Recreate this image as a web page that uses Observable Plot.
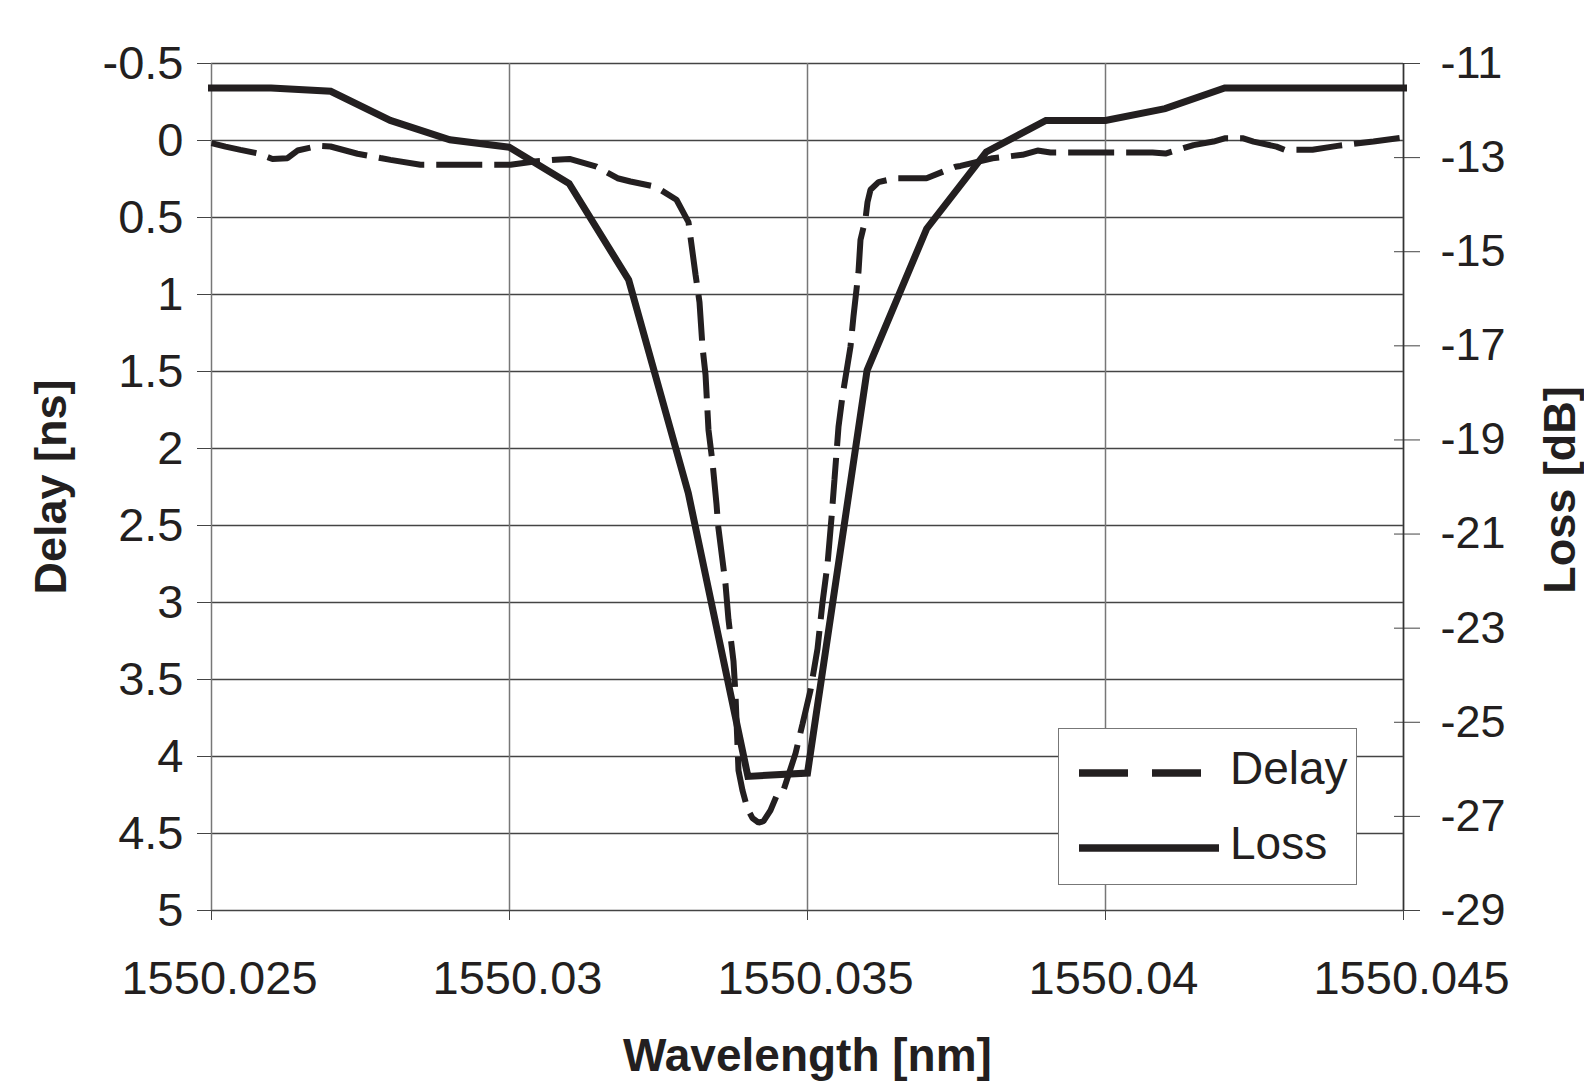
<!DOCTYPE html>
<html>
<head>
<meta charset="utf-8">
<script src="https://cdn.jsdelivr.net/npm/d3@7"></script>
<script src="https://cdn.jsdelivr.net/npm/@observablehq/plot@0.6"></script>
<style>
  body { margin: 0; background: #fff; }
  #wrap { position: relative; width: 1584px; height: 1084px; overflow: hidden; font-family: "Liberation Sans", Arial, sans-serif; }
  #legend { position: absolute; left: 1058px; top: 728px; width: 299px; height: 157px;
            border: 1.5px solid #777; background: #fff; box-sizing: border-box; }
  #legend svg { position: absolute; left: 0; top: 0; }
</style>
</head>
<body>
<div id="wrap"><div id="chart"></div><div id="legend"></div></div>
<script>
// ---- data ----
const lossWavelength = [1550.025, 1550.026, 1550.027, 1550.028, 1550.029, 1550.030, 1550.031,
  1550.032, 1550.033, 1550.034, 1550.035, 1550.036, 1550.037, 1550.038, 1550.039, 1550.040,
  1550.041, 1550.042, 1550.043, 1550.044, 1550.045];
const lossValues = [-11.52, -11.52, -11.59, -12.21, -12.62, -12.78, -13.55,
  -15.6, -20.13, -26.15, -26.08, -17.52, -14.51, -12.88, -12.21, -12.21,
  -11.96, -11.52, -11.52, -11.52, -11.52];

const delayWavelength = [1550.025000, 1550.025235, 1550.025487, 1550.025789, 1550.026023, 1550.026275,
  1550.026443, 1550.026795, 1550.026997, 1550.027450, 1550.027836, 1550.028003, 1550.028507,
  1550.030017, 1550.030419, 1550.030772, 1550.031007, 1550.031460, 1550.031812, 1550.032030,
  1550.032450, 1550.032802, 1550.033003, 1550.033121, 1550.033188, 1550.033238, 1550.033289,
  1550.033339, 1550.033406, 1550.033473, 1550.033500, 1550.033624, 1550.033674, 1550.033758,
  1550.033792, 1550.033842, 1550.033909, 1550.033993, 1550.034077, 1550.034178, 1550.034262,
  1550.034379, 1550.034497, 1550.034597, 1550.034799, 1550.034916, 1550.035050, 1550.035168,
  1550.035252, 1550.035336, 1550.035403, 1550.035453, 1550.035520, 1550.035587, 1550.035721,
  1550.035772, 1550.035856, 1550.035889, 1550.035973, 1550.036007, 1550.036057, 1550.036191,
  1550.036477, 1550.036997, 1550.037483, 1550.037567, 1550.038104, 1550.038607, 1550.038859,
  1550.039077, 1550.040789, 1550.041007, 1550.041477, 1550.041812, 1550.042013, 1550.042299,
  1550.042483, 1550.042869, 1550.043003, 1550.043473, 1550.043893, 1550.044497, 1550.045000];
const delayValues = [0.017, 0.04, 0.061, 0.085, 0.12, 0.115,
  0.065, 0.035, 0.039, 0.086, 0.114, 0.126, 0.158,
  0.158, 0.136, 0.125, 0.12, 0.169, 0.245, 0.266,
  0.3, 0.385, 0.53, 0.87, 1.05, 1.34, 1.52,
  1.88, 2.09, 2.36, 2.5, 2.88, 3.11, 3.38,
  3.6, 4.09, 4.22, 4.34, 4.4, 4.43, 4.42,
  4.35, 4.24, 4.22, 3.98, 3.79, 3.57, 3.3,
  3.0, 2.75, 2.45, 2.2, 1.86, 1.66, 1.34,
  1.14, 0.85, 0.645, 0.51, 0.4, 0.32, 0.27,
  0.245, 0.245, 0.17, 0.165, 0.115, 0.093, 0.065,
  0.078, 0.078, 0.085, 0.03, 0.007, -0.015, -0.015,
  0.007, 0.04, 0.06, 0.06, 0.035, 0.006, -0.02];

const xTicks = [1550.025, 1550.03, 1550.035, 1550.04, 1550.045];
const delayTicks = [-0.5, 0, 0.5, 1, 1.5, 2, 2.5, 3, 3.5, 4, 4.5, 5];
const lossTicks = [-11, -13, -15, -17, -19, -21, -23, -25, -27, -29];
const seriesNames = ["Delay", "Loss"];

// ---- scales: loss axis maps [-11, -29] onto delay axis [-0.5, 5] ----
const delayDomain = [-0.5, 5];
const lossDomain = [-11, -29];
const lossToDelay = d3.scaleLinear().domain(lossDomain).range(delayDomain);

const delayData = delayWavelength.map((w, i) => ({w, v: delayValues[i]}));
const lossData = lossWavelength.map((w, i) => ({w, v: lossToDelay(lossValues[i])}));

const ink = "#231f20";
const font = "Liberation Sans, Arial, sans-serif";
const fmtX = d => String(+d.toFixed(3));

const chart = Plot.plot({
  width: 1584,
  height: 1084,
  marginLeft: 211,
  marginRight: 181,
  marginTop: 63,
  marginBottom: 174,
  style: {fontFamily: font, fontSize: "44px", color: ink, background: "#fff", overflow: "visible"},
  x: {domain: [1550.025, 1550.045]},
  y: {domain: delayDomain, reverse: true},
  marks: [
    Plot.gridY(delayTicks, {stroke: "#444", strokeOpacity: 1, strokeWidth: 1.3}),
    Plot.gridX(xTicks, {stroke: "#777", strokeOpacity: 1, strokeWidth: 1.5}),
    Plot.axisX(xTicks, {tickFormat: () => "", tickSize: 10, stroke: "#444", label: null}),
    Plot.axisX(xTicks, {tickFormat: fmtX, tickSize: 0, tickPadding: 50, dx: 8, fill: ink, fontSize: 47, label: null}),
    Plot.axisY(delayTicks, {anchor: "left", tickFormat: d => String(d), tickSize: 14, tickPadding: 14, stroke: "#444", fill: ink, fontSize: 47, label: null}),
    Plot.axisY(lossTicks.map(d => lossToDelay(d)), {anchor: "right", tickFormat: d => String(Math.round(lossToDelay.invert(d))), tickSize: 26, dx: -10, tickPadding: 21, stroke: "#444", fill: ink, fontSize: 45, label: null}),
    Plot.ruleX([1550.045], {stroke: "#333", strokeWidth: 1.5}),
    Plot.line(delayData, {x: "w", y: "v", stroke: ink, strokeWidth: 6, strokeDasharray: "46,12", strokeLinejoin: "miter", strokeLinecap: "butt"}),
    Plot.line(lossData, {x: "w", y: "v", stroke: ink, strokeWidth: 7, strokeLinejoin: "miter", strokeMiterlimit: 6, strokeLinecap: "square"}),
    Plot.text(["Wavelength [nm]"], {frameAnchor: "bottom", dy: 160, fontSize: 46, fontWeight: "bold", fill: ink}),
    Plot.text(["Delay [ns]"], {frameAnchor: "left", textAnchor: "middle", rotate: -90, dx: -160, fontSize: 45, fontWeight: "bold", fill: ink}),
    Plot.text(["Loss [dB]"], {frameAnchor: "right", textAnchor: "middle", rotate: -90, dx: 157, dy: 3, fontSize: 45, fontWeight: "bold", fill: ink})
  ]
});
document.getElementById("chart").appendChild(chart);

// ---- legend ----
const leg = d3.select("#legend").append("svg").attr("width", 299).attr("height", 157);
const rows = [{name: seriesNames[0], dash: "49,24", y: 44}, {name: seriesNames[1], dash: null, y: 119}];
rows.forEach(r => {
  leg.append("line").attr("x1", 20).attr("x2", r.dash ? 148 : 160).attr("y1", r.y).attr("y2", r.y)
    .attr("stroke", ink).attr("stroke-width", 7.5).attr("stroke-dasharray", r.dash);
  leg.append("text").attr("x", 171).attr("y", r.y + 11).attr("font-family", font).attr("font-size", 46)
    .attr("fill", ink).text(r.name);
});
</script>
</body>
</html>
